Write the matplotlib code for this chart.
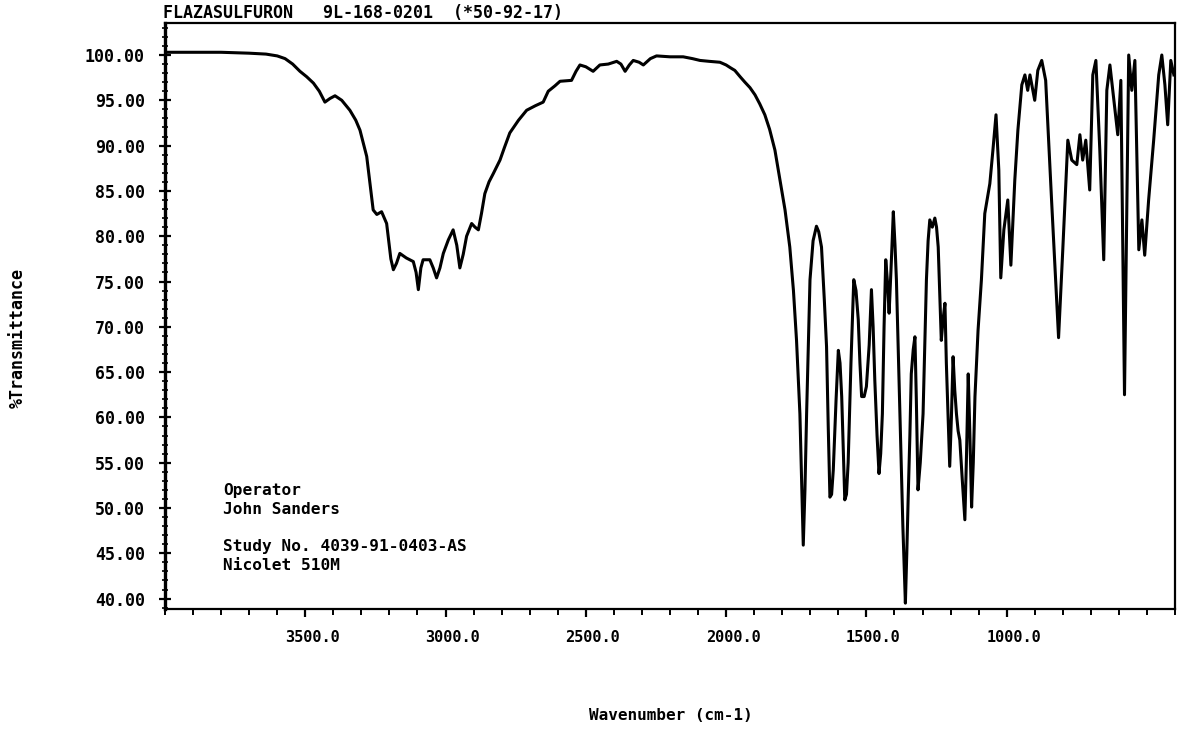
import matplotlib
matplotlib.use("Agg")
import matplotlib.pyplot as plt
import matplotlib.transforms as mtransforms
from matplotlib.ticker import FixedLocator, MultipleLocator, FuncFormatter

# ---------------- data ----------------
wavenumber = [4000, 3900, 3800, 3700, 3640, 3600, 3572, 3545, 3519, 3495, 3471, 3450, 3430, 3412,
              3394, 3370, 3341, 3320, 3305, 3281, 3270, 3258, 3245, 3228, 3210, 3195, 3186, 3175,
              3163, 3140, 3115, 3105, 3097, 3088, 3080, 3056, 3044, 3032, 3020, 3008, 2990, 2973,
              2960, 2949, 2937, 2925, 2907, 2895, 2883, 2872, 2860, 2845, 2830, 2806, 2790, 2771,
              2740, 2711, 2680, 2652, 2634, 2610, 2592, 2551, 2535, 2521, 2500, 2474, 2450, 2420,
              2390, 2375, 2360, 2345, 2331, 2310, 2295, 2270, 2248, 2200, 2153, 2120, 2093, 2060,
              2022, 2000, 1985, 1969, 1950, 1933, 1915, 1897, 1880, 1862, 1845, 1826, 1808, 1790,
              1773, 1760, 1749, 1737, 1730, 1725, 1719, 1713, 1701, 1690, 1678, 1670, 1660, 1650,
              1642, 1636, 1630, 1624, 1618, 1608, 1600, 1594, 1588, 1582, 1577, 1571, 1565, 1555,
              1545, 1537, 1529, 1523, 1517, 1508, 1500, 1490, 1482, 1476, 1470, 1462, 1455, 1449,
              1443, 1437, 1431, 1425, 1419, 1410, 1404, 1398, 1393, 1387, 1381, 1370, 1361, 1356,
              1351, 1345, 1340, 1333, 1327, 1322, 1316, 1308, 1298, 1292, 1286, 1280, 1274, 1265,
              1256, 1250, 1244, 1238, 1233, 1226, 1220, 1215, 1209, 1203, 1197, 1191, 1185, 1179,
              1173, 1167, 1158, 1149, 1143, 1137, 1131, 1125, 1119, 1113, 1102, 1090, 1078, 1060,
              1049, 1038, 1028, 1021, 1010, 996, 985, 971, 960, 946, 935, 925, 917, 900,
              889, 875, 861, 840, 815, 800, 782, 768, 750, 739, 729, 718, 704, 693,
              682, 668, 654, 643, 632, 618, 604, 593, 580, 565, 554, 543, 529, 518,
              508, 494, 476, 458, 447, 436, 426, 415, 404]
transmittance = [100.3, 100.3, 100.3, 100.2, 100.1, 99.9, 99.6, 99.0, 98.2, 97.6, 96.9, 96.0, 94.8, 95.2,
                 95.5, 95.0, 93.9, 92.8, 91.7, 88.8, 86.0, 82.9, 82.4, 82.7, 81.4, 77.5, 76.3, 77.0,
                 78.1, 77.6, 77.2, 76.0, 74.1, 76.5, 77.4, 77.4, 76.5, 75.4, 76.5, 78.1, 79.6, 80.7,
                 79.0, 76.5, 78.0, 80.0, 81.4, 81.0, 80.7, 82.5, 84.7, 86.0, 86.9, 88.4, 89.8, 91.4,
                 92.8, 93.9, 94.4, 94.8, 96.0, 96.6, 97.1, 97.2, 98.2, 98.9, 98.7, 98.2, 98.9, 99.0,
                 99.3, 99.0, 98.2, 98.9, 99.4, 99.2, 98.9, 99.6, 99.9, 99.8, 99.8, 99.6, 99.4, 99.3,
                 99.2, 98.9, 98.6, 98.3, 97.6, 97.0, 96.4, 95.6, 94.6, 93.4, 91.8, 89.5, 86.2, 82.9,
                 78.8, 74.0, 68.5, 60.4, 52.0, 45.9, 52.0, 60.5, 75.2, 79.5, 81.1, 80.5, 78.8, 73.0,
                 67.8, 59.0, 51.2, 51.5, 54.2, 62.0, 67.4, 66.0, 62.3, 56.0, 50.9, 51.5, 55.0, 66.0,
                 75.2, 74.0, 70.8, 66.0, 62.3, 62.3, 63.4, 68.0, 74.1, 70.0, 64.1, 58.0, 53.8, 56.0,
                 60.4, 70.0, 77.4, 75.0, 71.5, 78.0, 82.7, 79.0, 75.2, 68.0, 60.4, 48.0, 39.5, 45.0,
                 51.2, 58.0, 64.8, 67.5, 68.9, 62.0, 52.0, 55.0, 60.4, 68.0, 75.2, 79.5, 81.8, 81.0,
                 82.0, 81.0, 78.8, 73.0, 68.5, 71.0, 72.6, 66.0, 60.4, 54.6, 60.0, 66.7, 63.0, 60.4,
                 58.5, 57.5, 53.0, 48.7, 56.0, 64.8, 58.0, 50.1, 55.0, 62.3, 69.6, 75.2, 82.5, 85.8,
                 89.5, 93.4, 87.3, 75.4, 80.7, 84.0, 76.8, 86.2, 91.7, 96.7, 97.8, 96.1, 97.8, 95.0,
                 98.3, 99.4, 97.2, 84.0, 68.8, 78.5, 90.6, 88.4, 87.9, 91.2, 88.4, 90.6, 85.1, 97.8,
                 99.4, 89.5, 77.4, 96.1, 98.9, 95.0, 91.2, 97.2, 62.5, 100.0, 96.1, 99.4, 78.5, 81.8,
                 77.9, 84.0, 90.6, 97.8, 100.0, 96.7, 92.3, 99.4, 97.8]

x_major_ticks = [3500, 3000, 2500, 2000, 1500, 1000]
y_major_ticks = [40, 45, 50, 55, 60, 65, 70, 75, 80, 85, 90, 95, 100]

title_text = "FLAZASULFURON   9L-168-0201  (*50-92-17)"
info_lines = ["Operator", "John Sanders", "", "Study No. 4039-91-0403-AS", "Nicolet 510M"]
x_label = "Wavenumber (cm-1)"
y_label = "%Transmittance"

# ---------------- figure ----------------
W, H = 1179, 732
fig = plt.figure(figsize=(W / 100, H / 100), dpi=100)
ax = fig.add_axes([165 / W, 1 - 609 / H, (1175 - 165) / W, (609 - 23) / H])

MONO = "DejaVu Sans Mono"

ax.plot(wavenumber, transmittance, color="black", lw=2.2, solid_joinstyle="round")

ax.set_xlim(4000, 400)
ax.set_ylim(100 - (609 - 55) / 9.06, 100 + (55 - 23) / 9.06)

for s in ax.spines.values():
    s.set_linewidth(1.6)
ax.spines["left"].set_linewidth(2.4)

ax.xaxis.set_major_locator(FixedLocator(x_major_ticks))
ax.xaxis.set_minor_locator(MultipleLocator(100))
ax.yaxis.set_major_locator(FixedLocator(y_major_ticks))
ax.yaxis.set_minor_locator(MultipleLocator(1))
ax.xaxis.set_major_formatter(FuncFormatter(lambda v, p: f"{v:.1f}"))
ax.yaxis.set_major_formatter(FuncFormatter(lambda v, p: f"{v:.2f}"))

ax.tick_params(axis="x", which="major", direction="out", length=6, width=1.6, pad=9)
ax.tick_params(axis="x", which="minor", direction="out", length=4, width=1.4)
ax.tick_params(axis="y", which="major", direction="inout", length=9, width=1.6, pad=10)
ax.tick_params(axis="y", which="minor", direction="inout", length=4, width=1.2)
ax.tick_params(top=False, right=False)

for lab in ax.get_xticklabels():
    lab.set_fontfamily(MONO); lab.set_fontweight("bold"); lab.set_fontsize(11)
    lab.set_transform(lab.get_transform() + mtransforms.ScaledTranslation(7 / 100, 0, fig.dpi_scale_trans))
for lab in ax.get_yticklabels():
    lab.set_fontfamily(MONO); lab.set_fontweight("bold"); lab.set_fontsize(12)

fig.text(163 / W, 1 - 13 / H, title_text, ha="left", va="center",
         family=MONO, weight="bold", size=12)
fig.text(18 / W, 1 - 338 / H, y_label, rotation=90, ha="center", va="center",
         family=MONO, weight="bold", size=12)
fig.text(671 / W, 1 - 715 / H, x_label, ha="center", va="center",
         family=MONO, weight="bold", size=11.5)

y0 = 491
for i, line in enumerate(info_lines):
    if line:
        fig.text(223 / W, 1 - (y0 + 18.5 * i) / H, line, ha="left", va="center",
                 family=MONO, weight="bold", size=11.6)

fig.savefig("out.png", dpi=100, facecolor="white")
